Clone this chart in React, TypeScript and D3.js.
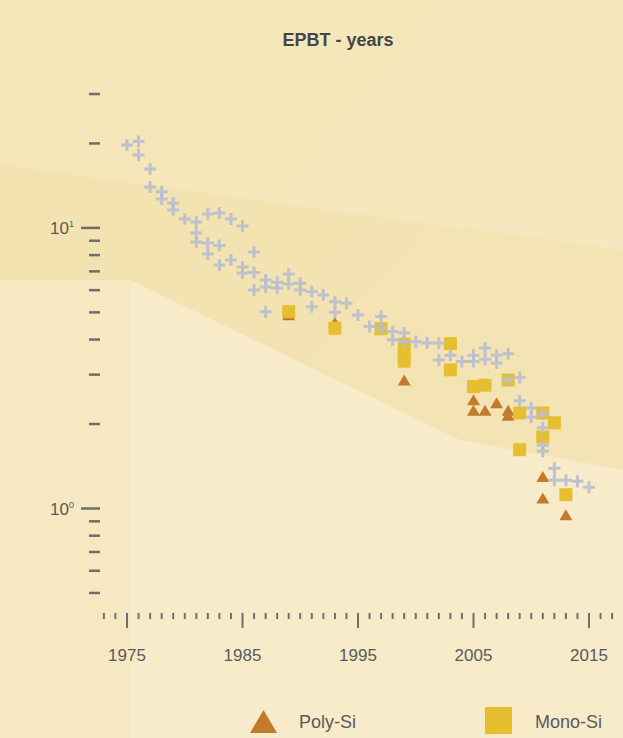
import React from "react";
import * as d3 from "d3";

const crossYears = [1975,1976,1976,1977,1977,1978,1978,1979,1979,1980,1981,1981,1981,1982,1982,1982,1983,1983,1983,1984,1984,1985,1985,1985,1986,1986,1986,1987,1987,1987,1988,1988,1989,1989,1990,1990,1991,1991,1992,1993,1993,1994,1995,1996,1997,1997,1998,1998,1999,1999,2000,2001,2002,2002,2003,2004,2005,2005,2006,2006,2007,2007,2008,2008,2009,2009,2010,2010,2011,2011,2011,2011,2012,2012,2013,2014,2015];
const crossValues = [19.75,20.3,18.2,16.2,14.0,13.46,12.68,12.27,11.58,10.76,10.5,9.59,8.91,11.21,8.84,8.07,11.3,8.65,7.38,10.76,7.68,10.16,7.25,6.9,8.21,6.93,6.01,6.52,6.16,5.03,6.4,6.11,6.85,6.31,6.35,6.01,5.93,5.24,5.77,5.46,5.0,5.39,4.89,4.45,4.83,4.4,4.27,3.99,4.22,3.93,3.93,3.89,3.89,3.38,3.52,3.34,3.52,3.34,3.73,3.4,3.52,3.3,3.56,2.87,2.93,2.42,2.28,2.12,2.17,1.94,1.68,1.6,1.39,1.26,1.26,1.25,1.19];

const monoYears = [1989,1993,1997,1999,1999,1999,2003,2003,2005,2006,2008,2009,2009,2011,2011,2012,2013];
const monoValues = [5.03,4.39,4.37,3.85,3.55,3.35,3.87,3.12,2.72,2.75,2.87,2.19,1.62,2.19,1.8,2.02,1.12];

const polyYears = [1989,1993,1999,2005,2005,2006,2007,2008,2008,2011,2011,2013];
const polyValues = [4.9,4.6,2.87,2.44,2.24,2.24,2.38,2.24,2.15,1.3,1.09,0.95];

const yTicks = [0.5,0.6,0.7,0.8,0.9,1,2,3,4,5,6,7,8,9,10,20,30];
const yMajor = [1, 10];
const yLabels = [{ v: 1, exp: "0" }, { v: 10, exp: "1" }];
const xTicks = d3.range(1973, 2018);
const xLabels = [1975, 1985, 1995, 2005, 2015];

const title = "EPBT - years";
const legendPoly = "Poly-Si";
const legendMono = "Mono-Si";

export default function App() {
  const W = 623, H = 738;
  const x = d3.scaleLinear().domain([1975, 2015]).range([127, 589]);
  const y = d3.scaleLog().domain([1, 10]).range([508.5, 227.9]);
  const font = "'Liberation Sans', Arial, Helvetica, sans-serif";
  const tri = (cx: number, cy: number, w: number, h: number) =>
    `M${cx - w / 2},${cy + h / 2}L${cx},${cy - h / 2}L${cx + w / 2},${cy + h / 2}Z`;
  const cross = (cx: number, cy: number, s: number) =>
    `M${cx - s},${cy}L${cx + s},${cy}M${cx},${cy - s}L${cx},${cy + s}`;

  return (
    <svg width={W} height={H} style={{ position: "absolute", left: 0, top: 0 }}>
      <defs>
        <linearGradient id="bg" x1="0" y1="0" x2="1" y2="1">
          <stop offset="0" stopColor="#f5e6b7" />
          <stop offset="1" stopColor="#f6e9c2" />
        </linearGradient>
      </defs>
      <rect x={0} y={0} width={W} height={H} fill="url(#bg)" />
      <polygon points="0,165 623,250 623,470 460,440 130,280 0,280" fill="#f2dea6" opacity={0.45} />
      <polygon points="0,280 130,280 130,738 0,738" fill="#f6e8c1" />
      <polygon points="130,280 460,440 623,470 623,738 130,738" fill="#f7ebc9" />

      <text x={338} y={46} textAnchor="middle" fontFamily={font} fontWeight="bold" fontSize={18} fill="#454545">{title}</text>

      {yTicks.map((t) => {
        const major = yMajor.includes(t);
        return (
          <line key={"yt" + t} x1={major ? 81 : 89} x2={100} y1={y(t)} y2={y(t)} stroke="#6e6e6e" strokeWidth={2.5} />
        );
      })}
      {yLabels.map((l) => (
        <text key={"yl" + l.v} x={50} y={y(l.v) + 6} fontFamily={font} fontSize={17} fill="#5a5a5a">
          10<tspan dy={-7} fontSize={9}>{l.exp}</tspan>
        </text>
      ))}

      {xTicks.map((t) => {
        const major = xLabels.includes(t);
        return (
          <line key={"xt" + t} x1={x(t)} x2={x(t)} y1={613} y2={major ? 628 : 619} stroke="#6e6e6e" strokeWidth={2} />
        );
      })}
      {xLabels.map((t) => (
        <text key={"xl" + t} x={x(t)} y={661} textAnchor="middle" fontFamily={font} fontSize={17} fill="#5a5a5a">{t}</text>
      ))}

      {polyYears.map((yr, i) => (
        <path key={"p" + i} d={tri(x(yr), y(polyValues[i]), 13, 11)} fill="#c47a2c" />
      ))}
      {monoYears.map((yr, i) => (
        <rect key={"m" + i} x={x(yr) - 6.5} y={y(monoValues[i]) - 6.5} width={13} height={13} fill="#e6bf2e" />
      ))}
      {crossYears.map((yr, i) => (
        <path key={"c" + i} d={cross(x(yr), y(crossValues[i]), 6)} stroke="#b9bdcf" strokeWidth={3} fill="none" opacity={0.9} />
      ))}

      <path d={tri(263.5, 721.5, 27, 23)} fill="#c47a2c" />
      <text x={299} y={728} fontFamily={font} fontSize={18} fill="#5a5a5a">{legendPoly}</text>
      <rect x={485} y={707} width={27} height={27} fill="#e6bf2e" />
      <text x={535} y={728} fontFamily={font} fontSize={18} fill="#5a5a5a">{legendMono}</text>
    </svg>
  );
}
